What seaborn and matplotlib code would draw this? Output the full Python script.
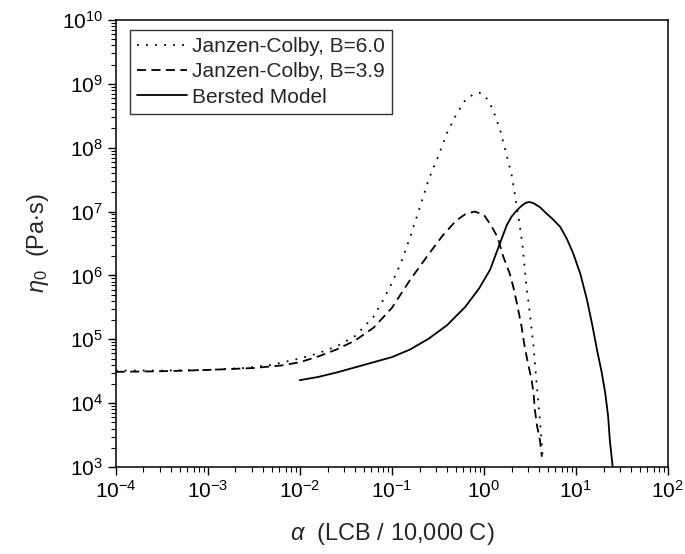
import numpy as np
import pandas as pd
import matplotlib
matplotlib.use("Agg")
import matplotlib.pyplot as plt
import seaborn as sns
from matplotlib.ticker import FixedLocator, NullFormatter, LogFormatterSciNotation

# ---- data (alpha in LCB/10,000 C, eta0 in Pa s) ----
alpha_jc60 = [1e-4, 3.16e-4, 1e-3, 2.51e-3, 5.01e-3, 1e-2, 1.58e-2, 2.51e-2, 3.98e-2,
              6.31e-2, 7.94e-2, 0.1, 0.126, 0.158, 0.2, 0.251, 0.316, 0.398, 0.501,
              0.631, 0.794, 0.891, 1.0, 1.15, 1.32, 1.51, 1.74, 2.0, 2.19, 2.40, 2.63,
              2.88, 3.16, 3.47, 3.72, 4.07, 4.37]
eta_jc60 = [3.24e4, 3.24e4, 3.31e4, 3.55e4, 3.98e4, 5.01e4, 6.03e4, 7.76e4, 1.12e5,
            2.24e5, 3.98e5, 7.59e5, 1.58e6, 3.98e6, 1.12e7, 3.16e7, 7.08e7, 1.70e8, 3.31e8,
            5.62e8, 7.08e8, 7.24e8, 6.76e8, 5.13e8, 3.24e8, 1.86e8, 8.32e7, 3.80e7, 1.74e7, 7.59e6, 3.02e6,
            7.59e5, 2.57e5, 7.59e4, 2.29e4, 5.50e3, 1.38e3]

alpha_jc39 = [1e-4, 3.16e-4, 1e-3, 3.16e-3, 6.31e-3, 1e-2, 1.58e-2, 2.51e-2, 3.98e-2,
              6.31e-2, 0.1, 0.158, 0.251, 0.355, 0.501, 0.631, 0.794, 1.0, 1.20, 1.41,
              1.62, 1.91, 2.09, 2.29, 2.57, 2.75, 3.02, 3.31, 3.47, 3.59, 3.80, 4.07, 4.27]
eta_jc39 = [3.09e4, 3.16e4, 3.31e4, 3.55e4, 3.89e4, 4.37e4, 5.37e4, 6.92e4, 9.55e4,
            1.51e5, 3.09e5, 8.51e5, 2.14e6, 4.17e6, 7.24e6, 9.12e6, 1.0e7, 8.91e6, 6.03e6, 3.98e6,
            2.0e6, 1.07e6, 6.61e5, 3.63e5, 1.58e5, 8.32e4, 4.17e4, 2.29e4, 1.41e4, 7.76e3, 4.27e3, 2.63e3, 1.45e3]

alpha_bersted = [0.01, 0.0158, 0.0251, 0.0398, 0.0631, 0.1, 0.158, 0.251, 0.398, 0.631,
                 0.891, 1.17, 1.45, 1.78, 2.0, 2.29, 2.57, 2.88, 3.16, 3.47, 4.07, 4.79,
                 5.62, 6.76, 7.94, 9.33, 11.2, 13.2, 15.1, 17.0, 19.1, 20.9, 22.4, 23.4, 24.5, 25.1]
eta_bersted = [2.29e4, 2.57e4, 3.02e4, 3.63e4, 4.37e4, 5.25e4, 6.92e4, 1.02e5, 1.66e5, 3.24e5,
               6.31e5, 1.23e6, 2.82e6, 6.17e6, 8.32e6, 1.05e7, 1.23e7, 1.38e7, 1.41e7, 1.35e7, 1.17e7, 9.33e6,
               7.59e6, 5.75e6, 3.80e6, 2.24e6, 1.05e6, 4.17e5, 1.66e5, 6.76e4, 3.02e4, 1.41e4, 6.31e3, 2.63e3,
               1.41e3, 1.0e3]

labels = ["Janzen-Colby, B=6.0", "Janzen-Colby, B=3.9", "Bersted Model"]

# axis decades shown
x_decades = [-4, -3, -2, -1, 0, 1, 2]
y_decades = [3, 4, 5, 6, 7, 8, 9, 10]

sns.set_theme(style="ticks")
plt.rcParams['font.family'] = ['Liberation Sans', 'DejaVu Sans']
plt.rcParams['mathtext.fontset'] = 'custom'
plt.rcParams['mathtext.rm'] = 'Liberation Sans'
plt.rcParams['mathtext.it'] = 'Liberation Sans:italic'
plt.rcParams['mathtext.bf'] = 'Liberation Sans:bold'

fig, ax = plt.subplots(figsize=(6.85, 5.54), dpi=100)
fig.subplots_adjust(left=0.169, right=0.975, bottom=0.157, top=0.964)

series = [(alpha_jc60, eta_jc60, (0, (1, 4))),
          (alpha_jc39, eta_jc39, (0, (5, 3))),
          (alpha_bersted, eta_bersted, '-')]
for (xs, ys, ls), lab in zip(series, labels):
    df = pd.DataFrame({"alpha": xs, "eta": ys})
    sns.lineplot(data=df, x="alpha", y="eta", ax=ax, color="black", lw=1.3,
                 linestyle=ls, label=lab, sort=False, estimator=None)

ax.set_xscale('log')
ax.set_yscale('log')
ax.set_xlim(10.0 ** x_decades[0], 10.0 ** x_decades[-1])
ax.set_ylim(10.0 ** y_decades[0], 10.0 ** y_decades[-1])
for axis, decs in ((ax.xaxis, x_decades), (ax.yaxis, y_decades)):
    majors = [10.0 ** d for d in decs]
    minors = [m * 10.0 ** d for d in decs[:-1] for m in range(2, 10)]
    axis.set_major_locator(FixedLocator(majors))
    axis.set_minor_locator(FixedLocator(minors))
    axis.set_major_formatter(LogFormatterSciNotation())
    axis.set_minor_formatter(NullFormatter())

ax.tick_params(which='major', direction='out', length=6, width=1, labelsize=15,
               pad=3, colors='black')
ax.tick_params(which='minor', direction='out', length=3.5, width=0.8, colors='black')
for sp in ax.spines.values():
    sp.set_visible(True)
    sp.set_color('black')
    sp.set_linewidth(1.1)

ax.set_xlabel(r'$\alpha$  (LCB / 10,000 C)', fontsize=17, labelpad=14)
ax.set_ylabel(r'$\eta_0$  (Pa$\cdot$s)', fontsize=17, labelpad=8)

leg = ax.legend(loc='upper left', bbox_to_anchor=(0.025, 0.978), borderaxespad=0,
                fontsize=15, frameon=True, fancybox=False, edgecolor='black',
                handlelength=2.4, handletextpad=0.25, labelspacing=0.3,
                borderpad=0.35)
leg.get_frame().set_linewidth(1.0)

fig.savefig("out.png", dpi=100)
